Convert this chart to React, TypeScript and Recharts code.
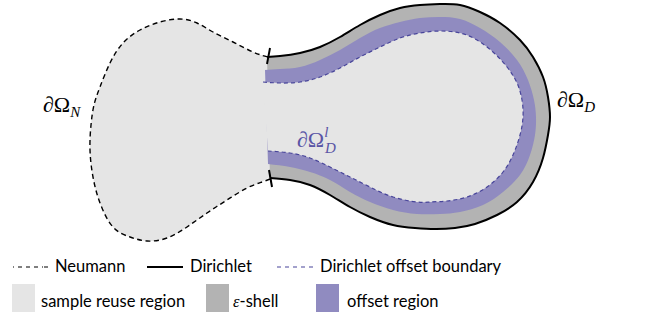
import React from 'react';
import { ScatterChart, Scatter, XAxis, YAxis, Customized } from 'recharts';

// Outer Dirichlet boundary, clockwise from the upper neck junction to the lower one
const dirichletOuter = [
  { x: 267, y: 57 }, { x: 280, y: 56 }, { x: 300, y: 53 }, { x: 320, y: 47 }, { x: 340, y: 37 },
  { x: 360, y: 25 }, { x: 380, y: 15 }, { x: 400, y: 8 }, { x: 420, y: 5 }, { x: 440, y: 4 },
  { x: 460, y: 5 }, { x: 480, y: 12 }, { x: 500, y: 23 }, { x: 520, y: 40 }, { x: 533, y: 57 },
  { x: 543, y: 77 }, { x: 548, y: 97 }, { x: 550, y: 117 }, { x: 548, y: 135 }, { x: 543, y: 158 },
  { x: 533, y: 182 }, { x: 517, y: 202 }, { x: 497, y: 215 }, { x: 475, y: 224 }, { x: 455, y: 228 },
  { x: 435, y: 229 }, { x: 415, y: 228 }, { x: 393, y: 225 }, { x: 370, y: 217 }, { x: 350, y: 207 },
  { x: 330, y: 195 }, { x: 310, y: 185 }, { x: 290, y: 180 }, { x: 270, y: 178 },
];

// Boundary between the epsilon-shell and the offset region
const shellInner = [
  { x: 265, y: 70 }, { x: 280, y: 69 }, { x: 300, y: 67 }, { x: 320, y: 60 }, { x: 340, y: 50 },
  { x: 360, y: 38 }, { x: 380, y: 28 }, { x: 400, y: 22 }, { x: 420, y: 18 }, { x: 440, y: 17 },
  { x: 460, y: 19 }, { x: 480, y: 28 }, { x: 500, y: 42 }, { x: 517, y: 60 }, { x: 528, y: 80 },
  { x: 534, y: 100 }, { x: 536, y: 117 }, { x: 535, y: 135 }, { x: 530, y: 155 }, { x: 520, y: 175 },
  { x: 503, y: 192 }, { x: 483, y: 205 }, { x: 460, y: 212 }, { x: 440, y: 214 }, { x: 417, y: 214 },
  { x: 393, y: 210 }, { x: 370, y: 202 }, { x: 350, y: 192 }, { x: 330, y: 180 }, { x: 310, y: 172 },
  { x: 290, y: 167 }, { x: 268, y: 164 },
];

// Dirichlet offset boundary
const offsetBoundary = [
  { x: 263, y: 82 }, { x: 280, y: 83 }, { x: 300, y: 82 }, { x: 320, y: 77 }, { x: 340, y: 68 },
  { x: 360, y: 57 }, { x: 380, y: 47 }, { x: 400, y: 38 }, { x: 420, y: 33 }, { x: 440, y: 31 },
  { x: 460, y: 33 }, { x: 477, y: 40 }, { x: 493, y: 52 }, { x: 507, y: 67 }, { x: 517, y: 83 },
  { x: 522, y: 100 }, { x: 523, y: 117 }, { x: 520, y: 135 }, { x: 513, y: 155 }, { x: 503, y: 172 },
  { x: 487, y: 187 }, { x: 467, y: 197 }, { x: 447, y: 201 }, { x: 430, y: 202 }, { x: 417, y: 202 },
  { x: 393, y: 197 }, { x: 370, y: 187 }, { x: 350, y: 177 }, { x: 330, y: 167 }, { x: 310, y: 158 },
  { x: 290, y: 153 }, { x: 268, y: 151 },
];

// Neumann boundary, from the lower neck junction around the left lobe to the upper one
const neumannLobe = [
  { x: 270, y: 179 }, { x: 262, y: 182 }, { x: 247, y: 188 }, { x: 227, y: 200 }, { x: 207, y: 213 },
  { x: 187, y: 227 }, { x: 167, y: 238 }, { x: 147, y: 241 }, { x: 130, y: 237 }, { x: 113, y: 227 },
  { x: 100, y: 203 }, { x: 93, y: 177 }, { x: 90, y: 150 }, { x: 91, y: 125 }, { x: 94, y: 105 },
  { x: 100, y: 87 }, { x: 110, y: 63 }, { x: 123, y: 43 }, { x: 140, y: 30 }, { x: 160, y: 22 },
  { x: 180, y: 19 }, { x: 197, y: 23 }, { x: 213, y: 32 }, { x: 233, y: 42 }, { x: 253, y: 52 },
  { x: 268, y: 57 },
];

const tickUpper = [{ x: 270, y: 48 }, { x: 267, y: 64 }];
const tickLower = [{ x: 269, y: 170 }, { x: 272, y: 187 }];

// Anchor of the offset-boundary label (baseline start)
const offsetLabelAnchor = [{ x: 297, y: 147 }];

const lineLegend = ['Neumann', 'Dirichlet', 'Dirichlet offset boundary'];
const regionLegend = ['sample reuse region', '-shell', 'offset region'];

const W = 649;
const H = 316;
const LIGHT = '#e5e5e5';
const SHELL = '#b3b3b3';
const PURPLE = '#908bc0';
const PURPLE_LINE = '#48459a';
const noDot = () => <g />;
const SANS = 'Lato, "Liberation Sans", sans-serif';
const SERIF = '"Liberation Serif", serif';

const OffsetLabel = (p: any) => (
  <text x={p.cx} y={p.cy} fontFamily={SERIF} fontSize={22} fill="#5a55a6">
    ∂Ω<tspan fontStyle="italic" fontSize={15} dy={-10}>l</tspan>
    <tspan fontStyle="italic" fontSize={15} x={p.cx + 28} dy={16}>D</tspan>
  </text>
);

const Annotations = () => (
  <g>
    <text x={43} y={112} fontFamily={SERIF} fontSize={22} fill="#000">
      ∂Ω<tspan fontStyle="italic" fontSize={15} dy={5}>N</tspan>
    </text>
    <text x={557} y={107} fontFamily={SERIF} fontSize={22} fill="#000">
      ∂Ω<tspan fontStyle="italic" fontSize={15} dy={5}>D</tspan>
    </text>

    {/* legend row 1 */}
    <line x1={13} y1={267} x2={50} y2={267} stroke="#000" strokeWidth={1.2} strokeDasharray="1 4 4 4 4 4 4 4 1" />
    <text x={55} y={272} fontFamily={SANS} fontSize={16.5} fill="#000">{lineLegend[0]}</text>
    <line x1={147} y1={267} x2={183} y2={267} stroke="#000" strokeWidth={2.2} />
    <text x={190} y={272} fontFamily={SANS} fontSize={16.5} fill="#000">{lineLegend[1]}</text>
    <line x1={277} y1={267} x2={314} y2={267} stroke={PURPLE_LINE} strokeWidth={1.2} strokeDasharray="4 4" />
    <text x={320} y={272} fontFamily={SANS} fontSize={16.5} fill="#000">{lineLegend[2]}</text>

    {/* legend row 2 */}
    <rect x={12} y={284} width={23} height={28} fill={LIGHT} />
    <text x={41} y={307} fontFamily={SANS} fontSize={16.5} fill="#000">{regionLegend[0]}</text>
    <rect x={206} y={284} width={23} height={28} fill={SHELL} />
    <text x={233} y={307} fontFamily={SANS} fontSize={16.5} fill="#000">
      <tspan fontFamily={SERIF} fontStyle="italic">ε</tspan>{regionLegend[1]}
    </text>
    <rect x={316} y={284} width={23} height={28} fill={PURPLE} />
    <text x={347} y={307} fontFamily={SANS} fontSize={16.5} fill="#000">{regionLegend[2]}</text>
  </g>
);

export default function App() {
  const wholeDomain = [...dirichletOuter, ...neumannLobe.slice(1)];
  return (
    <div style={{ position: 'absolute', left: 0, top: 0, width: W, height: H, background: '#fff' }}>
      <ScatterChart width={W} height={H} margin={{ top: 0, right: 0, bottom: 0, left: 0 }}>
        <XAxis type="number" dataKey="x" domain={[0, W]} hide allowDataOverflow />
        <YAxis type="number" dataKey="y" domain={[0, H]} reversed hide allowDataOverflow />
        <Customized component={Annotations} />
        <Scatter data={wholeDomain} shape={noDot} isAnimationActive={false} legendType="none"
          line={{ fill: LIGHT, stroke: 'none' }} lineJointType="natural" />
        <Scatter data={dirichletOuter} shape={noDot} isAnimationActive={false} legendType="none"
          line={{ fill: SHELL, stroke: 'none' }} lineJointType="natural" />
        <Scatter data={shellInner} shape={noDot} isAnimationActive={false} legendType="none"
          line={{ fill: PURPLE, stroke: 'none' }} lineJointType="natural" />
        <Scatter data={offsetBoundary} shape={noDot} isAnimationActive={false} legendType="none"
          line={{ fill: LIGHT, stroke: PURPLE_LINE, strokeWidth: 1.2, strokeDasharray: '4 3' }} lineJointType="natural" />
        <Scatter data={neumannLobe} shape={noDot} isAnimationActive={false} legendType="none"
          line={{ fill: 'none', stroke: '#000', strokeWidth: 1.4, strokeDasharray: '5 3.5' }} lineJointType="natural" />
        <Scatter data={dirichletOuter} shape={noDot} isAnimationActive={false} legendType="none"
          line={{ fill: 'none', stroke: '#000', strokeWidth: 2 }} lineJointType="natural" />
        <Scatter data={tickUpper} shape={noDot} isAnimationActive={false} legendType="none"
          line={{ fill: 'none', stroke: '#000', strokeWidth: 2 }} lineJointType="linear" />
        <Scatter data={tickLower} shape={noDot} isAnimationActive={false} legendType="none"
          line={{ fill: 'none', stroke: '#000', strokeWidth: 2 }} lineJointType="linear" />
        <Scatter data={offsetLabelAnchor} shape={OffsetLabel} isAnimationActive={false} legendType="none" />
      </ScatterChart>
    </div>
  );
}
